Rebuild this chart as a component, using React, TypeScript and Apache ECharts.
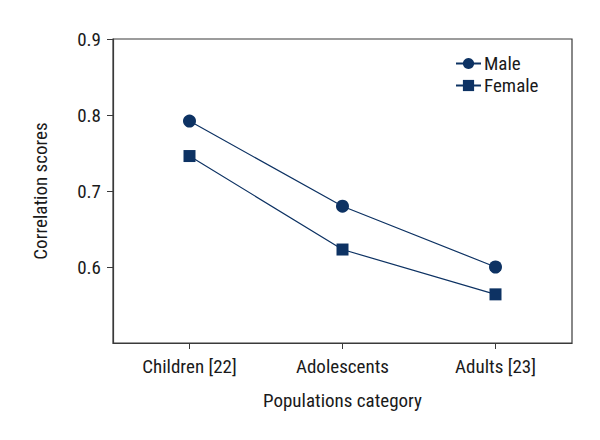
import React, { useEffect, useRef } from "react";
import * as echarts from "echarts";

const categories = ["Children [22]", "Adolescents", "Adults [23]"];
const maleValues = [0.792, 0.68, 0.6];
const femaleValues = [0.746, 0.623, 0.564];
const yTickLabels = [0.6, 0.7, 0.8, 0.9];
const yMin = 0.5;
const yMax = 0.9;

const FONT = "'Roboto Condensed', 'DejaVu Sans Condensed', sans-serif";
const FS = 19;
const NAVY = "#0d3263";
const AXIS = "#3a3a3a";
const TEXT = "#1a1a1a";

export default function App() {
  const ref = useRef<HTMLDivElement>(null);
  useEffect(() => {
    if (!ref.current) return;
    const chart = echarts.init(ref.current, undefined, { renderer: "svg" });
    chart.setOption({
      animation: false,
      backgroundColor: "#ffffff",
      textStyle: { fontFamily: FONT },
      grid: {
        left: 113,
        top: 39,
        right: 28,
        bottom: 97,
        show: true,
        borderColor: AXIS,
        borderWidth: 1.2,
        backgroundColor: "transparent",
      },
      legend: {
        left: 455,
        top: 54,
        padding: 0,
        orient: "vertical",
        itemWidth: 25,
        itemHeight: 14,
        itemGap: 3,
        textStyle: { fontFamily: FONT, fontSize: FS, color: TEXT, padding: [0, 0, 0, -2] },
        data: ["Male", "Female"],
      },
      xAxis: {
        type: "category",
        data: categories,
        boundaryGap: true,
        name: "Populations category",
        nameLocation: "middle",
        nameGap: 48,
        nameTextStyle: { fontFamily: FONT, fontSize: FS, color: TEXT },
        axisLine: { lineStyle: { color: AXIS, width: 1.2 } },
        axisTick: { show: true, alignWithLabel: true, length: 6, lineStyle: { color: AXIS } },
        axisLabel: { fontFamily: FONT, fontSize: FS, color: TEXT, margin: 14 },
        splitLine: { show: false },
      },
      yAxis: {
        type: "value",
        min: yMin,
        max: yMax,
        interval: 0.1,
        name: "Correlation scores",
        nameLocation: "middle",
        nameRotate: 90,
        nameGap: 63,
        nameTextStyle: { fontFamily: FONT, fontSize: FS, color: TEXT },
        axisLine: { show: true, lineStyle: { color: AXIS, width: 1.2 } },
        axisTick: { show: true, length: 6, lineStyle: { color: AXIS }, customValues: yTickLabels },
        axisLabel: {
          fontFamily: FONT,
          fontSize: FS,
          color: TEXT,
          margin: 12,
          customValues: yTickLabels,
          formatter: (v: number) => v.toFixed(1),
        },
        splitLine: { show: false },
      },
      series: [
        {
          name: "Male",
          type: "line",
          data: maleValues,
          symbol: "circle",
          symbolSize: 13,
          itemStyle: { color: NAVY },
          lineStyle: { color: NAVY, width: 1.2 },
        },
        {
          name: "Female",
          type: "line",
          data: femaleValues,
          symbol: "rect",
          symbolSize: 12,
          itemStyle: { color: NAVY },
          lineStyle: { color: NAVY, width: 1.2 },
        },
      ],
    });
    return () => chart.dispose();
  }, []);
  return (
    <div
      ref={ref}
      style={{ position: "fixed", left: 0, top: 0, width: 600, height: 440, background: "#fff" }}
    />
  );
}
